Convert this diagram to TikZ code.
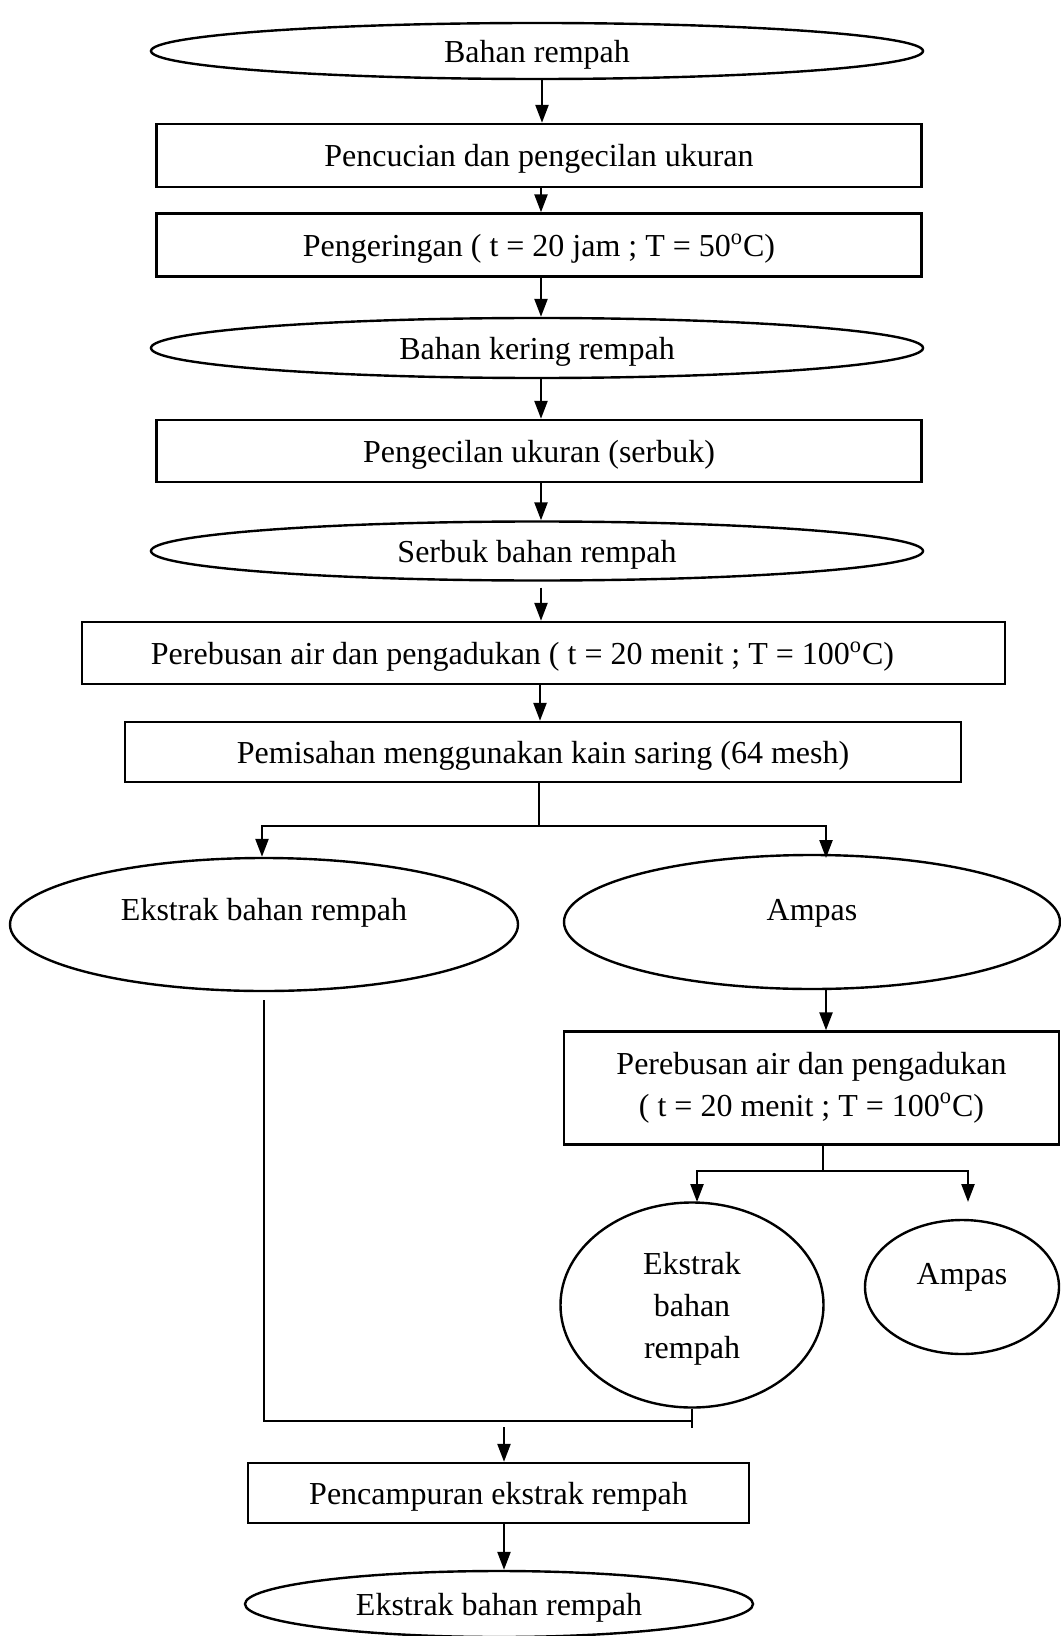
\documentclass[tikz,border=0pt]{standalone}
\usepackage{fontspec}
\setmainfont{Liberation Serif}
\usetikzlibrary{shapes.geometric,arrows.meta}
\begin{document}
\begin{tikzpicture}[x=0.5pt, y=-0.5pt, line width=1.2pt,
    font=\fontsize{16}{21}\selectfont,
    box/.style = {draw, rectangle, inner sep=0pt, text depth=0pt},
    oval/.style = {draw, ellipse, inner sep=0pt, text depth=0pt},
    arr/.style = {-{Triangle[length=9pt,width=6.5pt]}}]
    \useasboundingbox (0,0) rectangle (1060,1636);
    % main column
    \node[oval, minimum width=386pt, minimum height=28pt] (bahan) at (537,51) {Bahan rempah};
    \node[box, minimum width=382.5pt, minimum height=31.5pt] (cuci) at (539,155.5) {Pencucian dan pengecilan ukuran};
    \node[box, minimum width=382.5pt, minimum height=31.5pt] (kering) at (539,245) {Pengeringan ( t = 20 jam ; T = 50\textsuperscript{o}C)};
    \node[oval, minimum width=386pt, minimum height=30pt] (bkering) at (537,348) {Bahan kering rempah};
    \node[box, minimum width=382.5pt, minimum height=31pt] (kecil) at (539,451) {Pengecilan ukuran (serbuk)};
    \node[oval, minimum width=386pt, minimum height=29.5pt] (serbuk) at (537,551) {Serbuk bahan rempah};
    \node[box, minimum width=461.5pt, minimum height=31pt] (rebus) at (543.5,653) {Perebusan air dan pengadukan ( t = 20 menit ; T = 100\textsuperscript{o}C)\kern21pt};
    \node[box, minimum width=418pt, minimum height=30pt] (pisah) at (543,752) {Pemisahan menggunakan kain saring (64 mesh)};
    % branches
    \node[oval, minimum width=254pt, minimum height=66.5pt, text depth=15pt] (ekstrak1) at (264,924.5) {Ekstrak bahan rempah};
    \node[oval, minimum width=248pt, minimum height=67pt, text depth=12pt] (ampas1) at (812,922) {Ampas};
    \node[box, minimum width=247.5pt, minimum height=56.5pt, align=center, text depth=4pt] (rebus2) at (811.5,1088) {Perebusan air dan pengadukan\\( t = 20 menit ; T = 100\textsuperscript{o}C)};
    \node[oval, minimum width=131.5pt, minimum height=102.5pt, align=center] (ekstrak2) at (692,1305) {Ekstrak\\bahan\\rempah};
    \node[oval, minimum width=97pt, minimum height=67pt, text depth=13pt] (ampas2) at (962,1287) {Ampas};
    \node[box, minimum width=250.5pt, minimum height=30pt] (campur) at (498.5,1493) {Pencampuran ekstrak rempah};
    \node[oval, minimum width=254pt, minimum height=33pt] (hasil) at (499,1604) {Ekstrak bahan rempah};
    % junctions
    \coordinate (split1) at (539,826);
    \coordinate (toampas1) at (826,858);
    \coordinate (split2) at (823,1171);
    \coordinate (toekstrak2) at (697,1202);
    \coordinate (toampas2) at (968,1202);
    \coordinate (merge) at (504,1421);
    % connectors
    \draw[arr] (bahan.south -| 542,0) -- (cuci.north -| 542,0);
    \draw[arr] (cuci.south -| 541,0) -- (kering.north -| 541,0);
    \draw[arr] (kering.south -| 541,0) -- (bkering.north -| 541,0);
    \draw[arr] (bkering.south -| 541,0) -- (kecil.north -| 541,0);
    \draw[arr] (kecil.south -| 541,0) -- (serbuk.north -| 541,0);
    \draw[arr] ([yshift=-3pt]serbuk.south -| 541,0) -- (rebus.north -| 541,0);
    \draw[arr] (rebus.south -| 540,0) -- (pisah.north -| 540,0);
    \draw (pisah.south -| split1) -- (split1);
    \draw[arr] (split1) -| (ekstrak1.north -| 262,0);
    \draw[arr] (split1) -| (toampas1);
    \draw[arr] (ampas1.south -| toampas1) -- (rebus2.north -| toampas1);
    \draw (rebus2.south -| split2) -- (split2);
    \draw[arr] (split2) -| (toekstrak2);
    \draw[arr] (split2) -| (toampas2);
    \draw ([yshift=-4pt]ekstrak1.south) |- (ekstrak2.south |- merge);
    \draw (ekstrak2.south) -- ++(0,19);
    \draw[arr] ([yshift=-3pt]merge) -- (campur.north -| merge);
    \draw[arr] (campur.south -| merge) -- (hasil.north -| merge);
\end{tikzpicture}
\end{document}
